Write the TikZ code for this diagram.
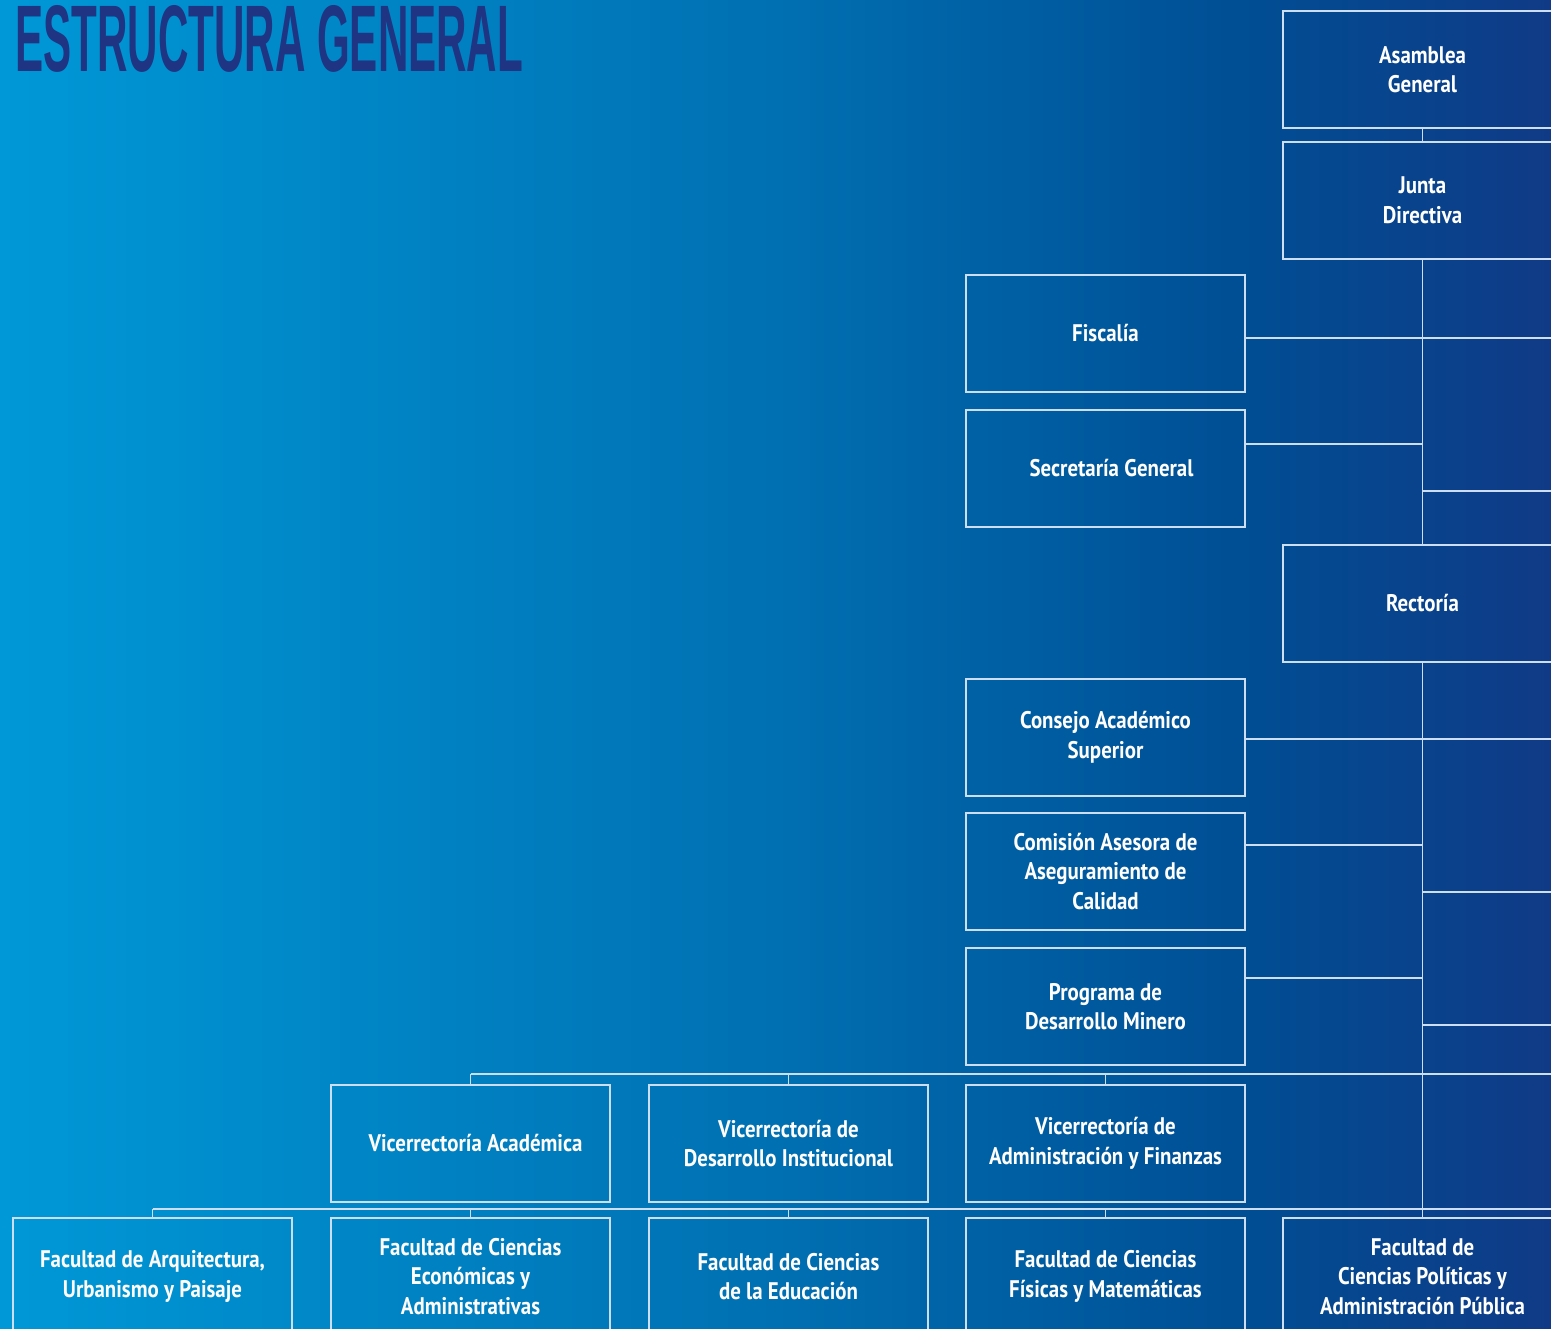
\documentclass[tikz,border=0pt]{standalone}
\usepackage{fontspec}
\setmainfont{PT Sans}[FakeStretch=0.87]
\newfontfamily\titlefont{Liberation Sans}[FakeStretch=0.9]
\definecolor{bgA}{RGB}{0,152,215}
\definecolor{bgB}{RGB}{0,112,178}
\definecolor{bgC}{RGB}{0,78,148}
\definecolor{bgD}{RGB}{16,58,134}
\definecolor{titleblue}{RGB}{31,52,130}
\definecolor{boxline}{RGB}{205,222,240}
\pgfdeclarehorizontalshading{bgshade}{100bp}{color(0bp)=(bgA); color(25bp)=(bgA); color(50bp)=(bgB); color(65bp)=(bgC); color(75bp)=(bgD); color(100bp)=(bgD)}
\tikzset{
  orgbox/.style={draw=boxline, line width=1.5pt, minimum width=279pt, minimum height=117pt,
    inner sep=0pt, text=white, align=center, font=\bfseries\fontsize{24}{29.5}\selectfont},
  link/.style={draw=boxline, line width=1.4pt},
}
\begin{document}
\begin{tikzpicture}[x=1pt,y=-1pt]
\useasboundingbox (0,0) rectangle (1551,1329);
\clip (0,0) rectangle (1551,1329);
\shade[shading=bgshade] (0,0) rectangle (1551,1329);
\node[anchor=base west, inner sep=0pt, text=titleblue] (title) at (15,72)
  {\resizebox{508pt}{66pt}{\titlefont\bfseries ESTRUCTURA GENERAL}};

\node[orgbox] (asamblea) at (1422.5,69.5) {Asamblea\\General};
\node[orgbox] (junta) at (1422.5,200.5) {Junta\\Directiva};
\node[orgbox] (fiscalia) at (1105.5,333.5) {Fiscalía};
\node[orgbox] (secretaria) at (1105.5,468.5) {\hspace*{12pt}Secretaría General};
\node[orgbox] (rectoria) at (1422.5,603.5) {Rectoría};
\node[orgbox] (consejo) at (1105.5,737.5) {Consejo Académico\\Superior};
\node[orgbox] (comision) at (1105.5,871.5) {Comisión Asesora de\\Aseguramiento de\\Calidad};
\node[orgbox] (programa) at (1105.5,1006.5) {Programa de\\Desarrollo Minero};
\node[orgbox] (vacad) at (470.5,1143.5) {\hspace*{10pt}Vicerrectoría Académica};
\node[orgbox] (vdes) at (788.5,1143.5) {Vicerrectoría de\\Desarrollo Institucional};
\node[orgbox] (vadm) at (1105.5,1143.5) {Vicerrectoría de\\Administración y Finanzas};
\node[orgbox] (farq) at (152.5,1276.5) {Facultad de Arquitectura,\\Urbanismo y Paisaje};
\node[orgbox] (feco) at (470.5,1276.5) {Facultad de Ciencias\\Económicas y\\Administrativas};
\node[orgbox] (fedu) at (788.5,1276.5) {Facultad de Ciencias\\de la Educación};
\node[orgbox] (ffis) at (1105.5,1276.5) {Facultad de Ciencias\\Físicas y Matemáticas};
\node[orgbox] (fpol) at (1422.5,1276.5) {Facultad de\\Ciencias Políticas y\\Administración Pública};

\draw[link] (asamblea) -- (junta);
\draw[link] (junta) -- (rectoria);
\draw[link] (rectoria) -- (fpol);

\coordinate (r338) at (1560,338);
\coordinate (t444) at (1422.5,444);
\coordinate (r491) at (1560,491);
\coordinate (r739) at (1560,739);
\coordinate (t845) at (1422.5,845);
\coordinate (r892) at (1560,892);
\coordinate (t978) at (1422.5,978);
\coordinate (r1025) at (1560,1025);
\coordinate (r1074) at (1560,1074);
\coordinate (r1209) at (1560,1209);

\draw[link] (fiscalia.east |- r338) -- (r338);
\draw[link] (secretaria.east |- t444) -- (t444);
\draw[link] (junta.south |- r491) -- (r491);
\draw[link] (consejo.east |- r739) -- (r739);
\draw[link] (comision.east |- t845) -- (t845);
\draw[link] (rectoria.south |- r892) -- (r892);
\draw[link] (programa.east |- t978) -- (t978);
\draw[link] (rectoria.south |- r1025) -- (r1025);

\draw[link] (vacad.north |- r1074) -- (r1074);
\draw[link] (vacad.north |- r1074) -- (vacad.north);
\draw[link] (vdes.north |- r1074) -- (vdes.north);
\draw[link] (vadm.north |- r1074) -- (vadm.north);

\draw[link] (farq.north |- r1209) -- (r1209);
\draw[link] (farq.north |- r1209) -- (farq.north);
\draw[link] (feco.north |- r1209) -- (feco.north);
\draw[link] (fedu.north |- r1209) -- (fedu.north);
\draw[link] (ffis.north |- r1209) -- (ffis.north);
\end{tikzpicture}
\end{document}
